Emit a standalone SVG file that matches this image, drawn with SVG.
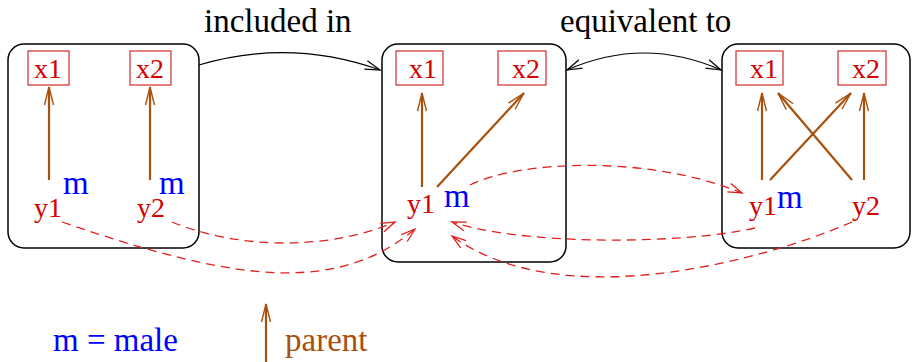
<svg xmlns="http://www.w3.org/2000/svg" width="912" height="362" viewBox="0 0 912 362">
<style>
text{font-family:"Liberation Serif","Times New Roman",serif}
.box{fill:none;stroke:#000;stroke-width:1.5}
.vb{fill:#fff;stroke:#d83a3a;stroke-width:1.3}
.lab{fill:#d40000;font-size:28px}
.m{fill:#0000ff;font-size:33px}
.par{stroke:#a8500c;stroke-width:2.2;fill:none;marker-end:url(#ab)}
.top{font-size:33px;fill:#000}
.blk{stroke:#000;stroke-width:1.2;fill:none}
.dsh{stroke:#e02020;stroke-width:1.3;fill:none;stroke-dasharray:9 6;marker-end:url(#ar)}
</style>
<defs>
<marker id="ab" viewBox="-20 -6 22 12" refX="0" refY="0" markerWidth="22" markerHeight="12" markerUnits="userSpaceOnUse" orient="auto">
<path d="M-18,-4.5 L0,0 L-18,4.5" fill="none" stroke="#a8500c" stroke-width="1.4"/>
</marker>
<marker id="ar" viewBox="-16 -6 18 12" refX="0" refY="0" markerWidth="18" markerHeight="12" markerUnits="userSpaceOnUse" orient="auto">
<path d="M-14,-4.5 L0,0 L-14,4.5" fill="none" stroke="#e02020" stroke-width="1.3"/>
</marker>
<marker id="ak" viewBox="-16 -6 18 12" refX="0" refY="0" markerWidth="18" markerHeight="12" markerUnits="userSpaceOnUse" orient="auto-start-reverse">
<path d="M-15,-4.5 L0,0 L-15,4.5" fill="none" stroke="#000" stroke-width="1.2"/>
</marker>
</defs>
<text class="top" x="204" y="32">included in</text>
<text class="top" x="560" y="32">equivalent to</text>
<g id="graph1">
<rect class="box" x="8" y="44" width="191" height="204" rx="16"/>
<rect class="vb" x="28" y="51" width="41" height="34"/>
<text class="lab" x="34" y="78">x1</text>
<rect class="vb" x="130" y="51" width="41" height="34"/>
<text class="lab" x="136" y="78">x2</text>
<line class="par" x1="49" y1="180" x2="49" y2="87"/>
<line class="par" x1="150" y1="180" x2="150" y2="87"/>
<text class="lab" x="34" y="217">y1</text>
<text class="m" x="63" y="194">m</text>
<text class="lab" x="137" y="217">y2</text>
<text class="m" x="159" y="194">m</text>
</g>
<g id="graph2">
<rect class="box" x="382" y="44" width="184" height="218" rx="16"/>
<rect class="vb" x="396" y="51" width="47" height="34"/>
<text class="lab" x="409" y="78">x1</text>
<rect class="vb" x="498" y="51" width="48" height="34"/>
<text class="lab" x="512" y="78">x2</text>
<line class="par" x1="422" y1="187" x2="422" y2="93"/>
<line class="par" x1="437" y1="187" x2="524" y2="93"/>
<text class="lab" x="407" y="213">y1</text>
<text class="m" x="444" y="207">m</text>
</g>
<g id="graph3">
<rect class="box" x="722" y="44" width="188" height="204" rx="16"/>
<rect class="vb" x="736" y="51" width="47" height="34"/>
<text class="lab" x="750" y="78">x1</text>
<rect class="vb" x="838" y="51" width="48" height="34"/>
<text class="lab" x="852" y="78">x2</text>
<line class="par" x1="762" y1="180" x2="762" y2="93"/>
<line class="par" x1="864" y1="180" x2="864" y2="93"/>
<line class="par" x1="770" y1="180" x2="851" y2="93"/>
<line class="par" x1="852" y1="180" x2="778" y2="93"/>
<text class="lab" x="749" y="215">y1</text>
<text class="m" x="777" y="208">m</text>
<text class="lab" x="852" y="215">y2</text>
</g>
<g id="connectors">
<path class="blk" d="M199,65 Q290,38 380,70" marker-end="url(#ak)"/>
<path class="blk" d="M567,70 Q644,36 721,70" marker-start="url(#ak)" marker-end="url(#ak)"/>
<path class="dsh" d="M62,222 C215,274 330,301 415,229"/>
<path class="dsh" d="M172,222 C240,250 330,250 395,222"/>
<path class="dsh" d="M470,185 C520,160 650,155 742,193"/>
<path class="dsh" d="M755,228 C680,245 520,245 452,222"/>
<path class="dsh" d="M852,222 C760,262 560,315 452,236"/>
</g>
<g id="legend">
<text class="m" x="53" y="351">m = male</text>
<line class="par" x1="266" y1="362" x2="266" y2="304"/>
<text x="285" y="351" style="font-size:33px;fill:#a8500c">parent</text>
</g>
</svg>
